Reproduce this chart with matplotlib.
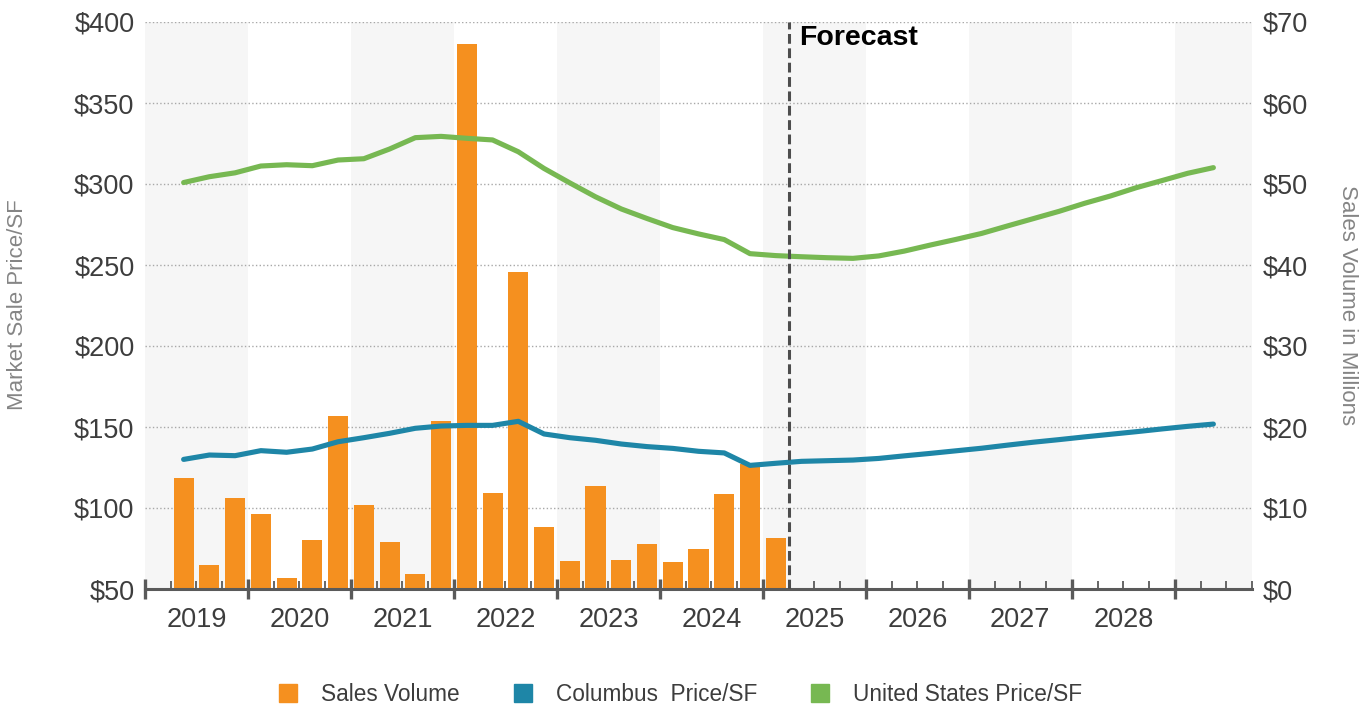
"""Recreate the Columbus sale price / sales volume chart with forecast."""

from __future__ import annotations

import matplotlib

matplotlib.use("Agg")
import matplotlib.pyplot as plt
import numpy as np
from matplotlib.lines import Line2D
from matplotlib.ticker import FixedLocator, FuncFormatter


YEARS = ["2019", "2020", "2021", "2022", "2023", "2024", "2025", "2026", "2027", "2028"]

# quarterly sales volume, $ millions (history only)
SALES_VOLUME = [
    13.7, 3.0, 11.2, 9.3,
    1.3, 6.1, 21.4, 10.4,
    5.8, 1.9, 20.7, 67.3,
    11.8, 39.1, 7.6, 3.5,
    12.7, 3.6, 5.6, 3.3,
    5.0, 11.7, 15.4, 6.3,
]

# quarterly market sale price per SF (history + forecast)
COLUMBUS_PRICE = [
    130.0, 132.7, 132.3, 135.4, 134.4, 136.4, 140.9, 143.4, 146.1, 149.2,
    150.6, 151.0, 151.0, 153.5, 145.7, 143.4, 141.8, 139.5, 137.9, 136.8,
    135.0, 134.0, 126.3, 127.6, 128.8, 129.2, 129.6, 130.6, 132.2, 133.7,
    135.3, 136.9, 138.8, 140.6, 142.2, 143.9, 145.5, 147.1, 148.8, 150.4,
    151.8,
]
US_PRICE = [
    300.9, 304.5, 306.9, 311.1, 311.9, 311.3, 314.8, 315.6, 321.6, 328.6,
    329.4, 328.2, 327.2, 319.9, 309.6, 300.7, 292.1, 284.6, 278.7, 273.1,
    269.2, 265.7, 257.0, 255.8, 255.1, 254.5, 254.1, 255.6, 258.6, 262.3,
    265.8, 269.5, 274.1, 278.6, 283.1, 288.1, 292.6, 297.7, 302.1, 306.6,
    310.1,
]

PRICE_TICKS = [50, 100, 150, 200, 250, 300, 350, 400]
VOLUME_TICKS = [0, 10, 20, 30, 40, 50, 60, 70]

LEGEND_LABELS = ["Sales Volume", "Columbus  Price/SF", "United States Price/SF"]

ORANGE = "#F5901F"
TEAL = "#1E86A7"
GREEN = "#77B852"
AXIS_GRAY = "#5a5a5a"
TEXT_GRAY = "#3d3d3d"
LABEL_GRAY = "#858585"
BAND_GRAY = "#f6f6f6"

FIRST_SLOT = 1          # first quarter sits one slot right of the axis start
QUARTERS_PER_YEAR = 4
X_END = 43


def draw_chart(output_path: str = "out.png") -> None:
    plt.rcParams["font.family"] = ["Liberation Sans", "DejaVu Sans"]

    fig = plt.figure(figsize=(13.7, 7.08), dpi=100)
    ax = fig.add_axes([145 / 1370, 119 / 708, 1107 / 1370, 567 / 708])
    ax2 = ax.twinx()

    # alternating year bands
    n_years = int(np.ceil(X_END / QUARTERS_PER_YEAR))
    for year_index in range(0, n_years, 2):
        start = year_index * QUARTERS_PER_YEAR
        ax.axvspan(start, min(start + QUARTERS_PER_YEAR, X_END),
                   color=BAND_GRAY, zorder=0, lw=0)

    bar_x = FIRST_SLOT + 0.5 + np.arange(len(SALES_VOLUME))
    ax.bar(bar_x, SALES_VOLUME, width=0.78, color=ORANGE, zorder=1)

    line_x = FIRST_SLOT + 0.5 + np.arange(len(US_PRICE))
    ax2.plot(line_x, US_PRICE, color=GREEN, lw=3.7, solid_capstyle="round",
             solid_joinstyle="round", zorder=2)
    ax2.plot(line_x, COLUMBUS_PRICE, color=TEAL, lw=3.7, solid_capstyle="round",
             solid_joinstyle="round", zorder=2)

    forecast_x = FIRST_SLOT + len(SALES_VOLUME)
    ax2.axvline(forecast_x, color="#4d4d4d", lw=2.2, ls=(0, (3.2, 1.5)), zorder=5)
    ax2.text(forecast_x + 0.42, 390, "Forecast", fontsize=20.5, fontweight="bold",
             color="black", va="center", ha="left", zorder=6)

    # volume axis (right)
    ax.set_xlim(0, X_END)
    ax.set_ylim(VOLUME_TICKS[0], VOLUME_TICKS[-1])
    ax.yaxis.tick_right()
    ax.set_yticks(VOLUME_TICKS)
    ax.yaxis.set_major_formatter(FuncFormatter(lambda v, _: f"${v:.0f}"))
    ax.tick_params(axis="y", length=0, pad=8, labelsize=19.5, labelcolor=TEXT_GRAY)
    ax.grid(axis="y", ls=":", color="#a8a8a8", lw=1.0)
    ax.set_axisbelow(True)

    # price axis (left)
    ax2.set_ylim(PRICE_TICKS[0], PRICE_TICKS[-1])
    ax2.yaxis.tick_left()
    ax2.set_yticks(PRICE_TICKS)
    ax2.yaxis.set_major_formatter(FuncFormatter(lambda v, _: f"${v:.0f}"))
    ax2.tick_params(axis="y", length=0, pad=7.5, labelsize=19.5, labelcolor=TEXT_GRAY)

    # x axis: year boundaries as major ticks, quarters as minor, year names centred
    ax.xaxis.set_major_locator(FixedLocator(np.arange(0, X_END, QUARTERS_PER_YEAR)))
    ax.xaxis.set_minor_locator(FixedLocator(np.arange(0, X_END + 1)))
    ax.xaxis.set_major_formatter(FuncFormatter(lambda v, _: ""))

    def year_label(value, _pos):
        slot = int(round(value))
        if slot % QUARTERS_PER_YEAR == 2:
            year_index = slot // QUARTERS_PER_YEAR
            if year_index < len(YEARS):
                return YEARS[year_index]
        return ""

    ax.xaxis.set_minor_formatter(FuncFormatter(year_label))
    ax.tick_params(axis="x", which="major", direction="inout", length=15,
                   width=2.4, color=AXIS_GRAY)
    ax.tick_params(axis="x", which="minor", direction="in", length=6,
                   width=1.3, color=AXIS_GRAY, pad=13, labelsize=19.5,
                   labelcolor=TEXT_GRAY)

    for name, spine in ax.spines.items():
        spine.set_visible(name == "bottom")
    ax.spines["bottom"].set_color(AXIS_GRAY)
    ax.spines["bottom"].set_linewidth(2.2)
    for spine in ax2.spines.values():
        spine.set_visible(False)

    fig.text(17.5 / 1370, 1 - 305 / 708, "Market Sale Price/SF", rotation=90,
             ha="center", va="center", fontsize=16, color=LABEL_GRAY)
    fig.text(1348 / 1370, 1 - 305 / 708, "Sales Volume in Millions", rotation=270,
             ha="center", va="center", fontsize=16, color=LABEL_GRAY)

    handles = [
        Line2D([], [], marker="s", ls="none", markersize=13.5, color=color)
        for color in (ORANGE, TEAL, GREEN)
    ]
    fig.legend(handles, LEGEND_LABELS, loc="center", bbox_to_anchor=(0.496, 0.019),
               ncol=3, frameon=False, fontsize=16.3, handlelength=1.0,
               handletextpad=0.95, columnspacing=2.3, labelcolor=TEXT_GRAY)

    fig.savefig(output_path, dpi=100)
    plt.close(fig)


def main() -> int:
    draw_chart("out.png")
    return 0


if __name__ == "__main__":
    raise SystemExit(main())
